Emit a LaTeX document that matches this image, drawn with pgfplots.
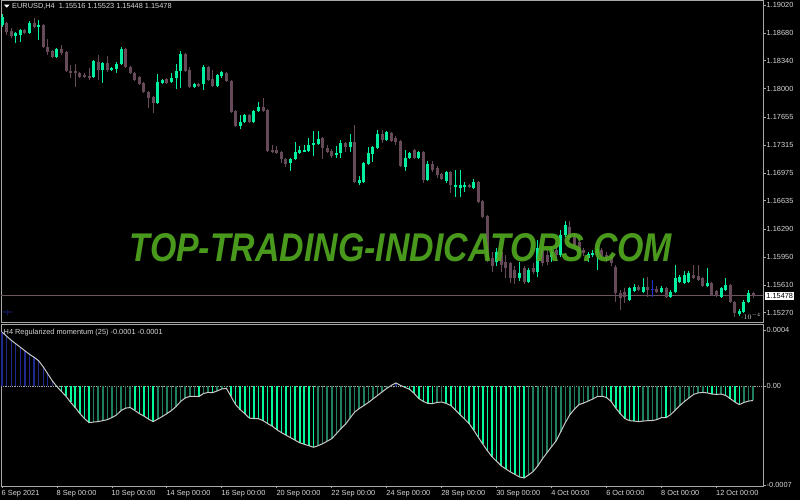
\documentclass[border=0pt]{standalone}
\usepackage{fontspec}
\setmainfont{Liberation Sans}
\usepackage{pgfplots}
\usepackage{pgfplotstable}
\pgfplotsset{compat=1.18}
\definecolor{bull}{HTML}{00EFA0}
\definecolor{bear}{HTML}{664A5A}
\definecolor{dojib}{HTML}{2030C8}
\definecolor{hbright}{HTML}{00FA9A}
\definecolor{hdark}{HTML}{1F7F5F}
\definecolor{hblue}{HTML}{1F2A90}
\definecolor{mline}{HTML}{C8C8C8}
\definecolor{frame}{HTML}{A8A8A8}
\definecolor{lab}{HTML}{D8D8D8}
\definecolor{pline}{HTML}{6A5560}
\definecolor{wm}{HTML}{52AA20}
\newcommand\lab{\fontsize{7.4}{8.5}\selectfont}

\pgfplotstableread{
i o h l c
0 1.18776 1.18910 1.18752 1.18874
1 1.18800 1.18813 1.18655 1.18692
2 1.18704 1.18740 1.18619 1.18643
3 1.18643 1.18692 1.18557 1.18679
4 1.18655 1.18727 1.18570 1.18716
5 1.18716 1.18727 1.18667 1.18679
6 1.18679 1.18825 1.18667 1.18800
7 1.18800 1.18862 1.18740 1.18752
8 1.18764 1.18837 1.18594 1.18776
9 1.18776 1.18788 1.18497 1.18509
10 1.18509 1.18606 1.18411 1.18448
11 1.18460 1.18472 1.18375 1.18387
12 1.18387 1.18497 1.18375 1.18485
13 1.18485 1.18533 1.18411 1.18435
14 1.18448 1.18460 1.18204 1.18216
15 1.18216 1.18289 1.18131 1.18204
16 1.18216 1.18301 1.18022 1.18191
17 1.18191 1.18204 1.18131 1.18143
18 1.18167 1.18191 1.18131 1.18143
19 1.18155 1.18253 1.18107 1.18131
20 1.18143 1.18350 1.18131 1.18338
21 1.18326 1.18411 1.18107 1.18228
22 1.18228 1.18326 1.18070 1.18313
23 1.18313 1.18399 1.18204 1.18228
24 1.18228 1.18265 1.18216 1.18253
25 1.18240 1.18326 1.18191 1.18301
26 1.18301 1.18509 1.18289 1.18485
27 1.18485 1.18497 1.18253 1.18265
28 1.18265 1.18277 1.18179 1.18191
29 1.18191 1.18204 1.18095 1.18107
30 1.18143 1.18155 1.18046 1.18058
31 1.18070 1.18083 1.17948 1.17961
32 1.17961 1.17973 1.17766 1.17888
33 1.17900 1.17912 1.17704 1.17826
34 1.17826 1.18179 1.17814 1.18083
35 1.18070 1.18118 1.18058 1.18107
36 1.18118 1.18131 1.18058 1.18070
37 1.18083 1.18191 1.18070 1.18131
38 1.18131 1.18301 1.17997 1.18216
39 1.18216 1.18460 1.18010 1.18423
40 1.18423 1.18435 1.18204 1.18216
41 1.18228 1.18265 1.18010 1.18022
42 1.18022 1.18070 1.18010 1.18058
43 1.18058 1.18070 1.18022 1.18034
44 1.18058 1.18289 1.17985 1.18265
45 1.18265 1.18277 1.18095 1.18107
46 1.18118 1.18228 1.18022 1.18034
47 1.18034 1.18179 1.18022 1.18167
48 1.18155 1.18216 1.18131 1.18204
49 1.18191 1.18204 1.18083 1.18095
50 1.18095 1.18107 1.17704 1.17717
51 1.17729 1.17741 1.17534 1.17546
52 1.17546 1.17680 1.17509 1.17595
53 1.17595 1.17692 1.17582 1.17680
54 1.17680 1.17692 1.17582 1.17595
55 1.17595 1.17741 1.17582 1.17729
56 1.17729 1.17839 1.17717 1.17778
57 1.17778 1.17888 1.17717 1.17729
58 1.17741 1.17753 1.17230 1.17242
59 1.17254 1.17315 1.17217 1.17242
60 1.17254 1.17303 1.17205 1.17217
61 1.17230 1.17242 1.17095 1.17144
62 1.17144 1.17157 1.17047 1.17083
63 1.17095 1.17157 1.16998 1.17144
64 1.17144 1.17352 1.17132 1.17230
65 1.17217 1.17303 1.17205 1.17254
66 1.17242 1.17315 1.17230 1.17254
67 1.17242 1.17401 1.17230 1.17315
68 1.17315 1.17486 1.17181 1.17339
69 1.17327 1.17486 1.17315 1.17388
70 1.17401 1.17413 1.17144 1.17279
71 1.17279 1.17315 1.17217 1.17230
72 1.17242 1.17266 1.17157 1.17181
73 1.17193 1.17303 1.17157 1.17217
74 1.17217 1.17376 1.17157 1.17339
75 1.17339 1.17352 1.17230 1.17291
76 1.17291 1.17449 1.17230 1.17352
77 1.17352 1.17558 1.16852 1.16865
78 1.16852 1.16937 1.16828 1.16889
79 1.16865 1.17108 1.16852 1.17095
80 1.17083 1.17291 1.17071 1.17217
81 1.17205 1.17303 1.17108 1.17291
82 1.17279 1.17498 1.17266 1.17449
83 1.17449 1.17498 1.17339 1.17376
84 1.17376 1.17486 1.17364 1.17474
85 1.17461 1.17474 1.17352 1.17364
86 1.17401 1.17425 1.17315 1.17352
87 1.17364 1.17376 1.17047 1.17059
88 1.17047 1.17254 1.16998 1.17157
89 1.17157 1.17230 1.17144 1.17217
90 1.17254 1.17266 1.17144 1.17157
91 1.17157 1.17242 1.17144 1.17230
92 1.17230 1.17242 1.16852 1.16889
93 1.16889 1.17120 1.16877 1.17083
94 1.17083 1.17120 1.16986 1.17010
95 1.17035 1.17059 1.16913 1.16949
96 1.16961 1.16973 1.16889 1.16900
97 1.16877 1.16998 1.16852 1.16986
98 1.16986 1.16998 1.16730 1.16828
99 1.16816 1.17010 1.16682 1.16828
100 1.16791 1.17010 1.16682 1.16828
101 1.16804 1.16865 1.16743 1.16828
102 1.16828 1.16840 1.16791 1.16804
103 1.16791 1.16900 1.16779 1.16865
104 1.16865 1.16877 1.16608 1.16621
105 1.16633 1.16645 1.16426 1.16438
106 1.16450 1.16462 1.15890 1.15914
107 1.15939 1.16012 1.15768 1.15841
108 1.15890 1.16061 1.15841 1.16012
109 1.16012 1.16036 1.15768 1.15853
110 1.15890 1.15975 1.15695 1.15817
111 1.15877 1.15890 1.15634 1.15695
112 1.15792 1.15841 1.15622 1.15695
113 1.15695 1.15890 1.15659 1.15755
114 1.15817 1.15841 1.15622 1.15647
115 1.15647 1.15817 1.15634 1.15792
116 1.15817 1.15877 1.15743 1.15768
117 1.15768 1.16158 1.15707 1.16061
118 1.16036 1.16097 1.15841 1.15877
119 1.15975 1.16036 1.15853 1.15890
120 1.15950 1.16073 1.15890 1.16012
121 1.16036 1.16097 1.15939 1.15975
122 1.15975 1.16280 1.15950 1.16219
123 1.16219 1.16389 1.16194 1.16340
124 1.16316 1.16389 1.16158 1.16182
125 1.16194 1.16243 1.16061 1.16097
126 1.16134 1.16158 1.15987 1.16012
127 1.16036 1.16061 1.15963 1.15999
128 1.15939 1.16012 1.15890 1.15987
129 1.15975 1.16036 1.15950 1.15999
130 1.15999 1.16097 1.15792 1.16048
131 1.16036 1.16061 1.15939 1.15963
132 1.15975 1.16012 1.15890 1.15939
133 1.15950 1.15975 1.15841 1.15877
134 1.15829 1.15853 1.15403 1.15512
135 1.15512 1.15549 1.15305 1.15452
136 1.15525 1.15574 1.15391 1.15464
137 1.15427 1.15586 1.15415 1.15574
138 1.15537 1.15622 1.15525 1.15586
139 1.15586 1.15610 1.15537 1.15549
140 1.15525 1.15695 1.15512 1.15586
141 1.15586 1.15707 1.15464 1.15549
142 1.15561 1.15671 1.15464 1.15561
143 1.15561 1.15598 1.15512 1.15525
144 1.15525 1.15598 1.15512 1.15574
145 1.15574 1.15586 1.15452 1.15464
146 1.15464 1.15549 1.15452 1.15525
147 1.15525 1.15853 1.15512 1.15695
148 1.15647 1.15731 1.15634 1.15707
149 1.15634 1.15780 1.15622 1.15731
150 1.15647 1.15780 1.15634 1.15755
151 1.15731 1.15853 1.15683 1.15695
152 1.15719 1.15853 1.15659 1.15671
153 1.15695 1.15707 1.15586 1.15598
154 1.15598 1.15817 1.15586 1.15634
155 1.15634 1.15647 1.15476 1.15488
156 1.15537 1.15549 1.15464 1.15476
157 1.15464 1.15586 1.15452 1.15574
158 1.15549 1.15695 1.15537 1.15610
159 1.15610 1.15622 1.15391 1.15403
160 1.15403 1.15415 1.15220 1.15268
161 1.15256 1.15317 1.15232 1.15293
162 1.15281 1.15427 1.15268 1.15403
163 1.15403 1.15549 1.15391 1.15512
164 1.15516 1.15523 1.15448 1.15478
}\candles

\pgfplotstableread{
i v k
0 0.000386 0
1 0.000357 0
2 0.000328 0
3 0.000303 0
4 0.000278 0
5 0.000253 0
6 0.000228 0
7 0.000207 0
8 0.000182 0
9 0.000139 0
10 0.000089 0
11 0.000039 0
12 -0.000002 1
13 -0.000036 1
14 -0.000071 1
15 -0.000114 1
16 -0.000150 1
17 -0.000193 1
18 -0.000228 1
19 -0.000257 1
20 -0.000253 2
21 -0.000250 2
22 -0.000243 2
23 -0.000236 2
24 -0.000221 2
25 -0.000203 2
26 -0.000171 2
27 -0.000154 2
28 -0.000150 2
29 -0.000171 1
30 -0.000193 1
31 -0.000211 1
32 -0.000232 1
33 -0.000250 1
34 -0.000232 2
35 -0.000214 2
36 -0.000193 2
37 -0.000171 2
38 -0.000143 2
39 -0.000107 2
40 -0.000082 2
41 -0.000071 2
42 -0.000070 2
43 -0.000072 1
44 -0.000050 2
45 -0.000043 2
46 -0.000044 1
47 -0.000032 2
48 -0.000018 2
49 -0.000014 2
50 -0.000071 1
51 -0.000129 1
52 -0.000164 1
53 -0.000193 1
54 -0.000225 1
55 -0.000228 1
56 -0.000229 1
57 -0.000243 1
58 -0.000264 1
59 -0.000282 1
60 -0.000307 1
61 -0.000328 1
62 -0.000346 1
63 -0.000364 1
64 -0.000382 1
65 -0.000400 1
66 -0.000411 1
67 -0.000421 1
68 -0.000432 1
69 -0.000421 2
70 -0.000407 2
71 -0.000389 2
72 -0.000371 2
73 -0.000336 2
74 -0.000300 2
75 -0.000268 2
76 -0.000225 2
77 -0.000182 2
78 -0.000157 2
79 -0.000136 2
80 -0.000114 2
81 -0.000089 2
82 -0.000064 2
83 -0.000039 2
84 -0.000014 2
85 0.000007 0
86 0.000025 0
87 0.000007 0
88 -0.000007 1
89 -0.000021 1
90 -0.000050 1
91 -0.000086 1
92 -0.000107 1
93 -0.000121 1
94 -0.000122 1
95 -0.000114 2
96 -0.000111 2
97 -0.000121 1
98 -0.000136 1
99 -0.000168 1
100 -0.000200 1
101 -0.000232 1
102 -0.000264 1
103 -0.000311 1
104 -0.000361 1
105 -0.000411 1
106 -0.000457 1
107 -0.000500 1
108 -0.000532 1
109 -0.000564 1
110 -0.000586 1
111 -0.000607 1
112 -0.000625 1
113 -0.000643 1
114 -0.000650 1
115 -0.000628 2
116 -0.000603 2
117 -0.000564 2
118 -0.000514 2
119 -0.000471 2
120 -0.000428 2
121 -0.000386 2
122 -0.000321 2
123 -0.000257 2
124 -0.000200 2
125 -0.000161 2
126 -0.000129 2
127 -0.000118 2
128 -0.000104 2
129 -0.000089 2
130 -0.000071 2
131 -0.000070 2
132 -0.000079 1
133 -0.000107 1
134 -0.000154 1
135 -0.000193 1
136 -0.000228 1
137 -0.000243 1
138 -0.000246 1
139 -0.000250 1
140 -0.000246 2
141 -0.000243 2
142 -0.000242 2
143 -0.000236 2
144 -0.000221 2
145 -0.000222 1
146 -0.000200 2
147 -0.000168 2
148 -0.000136 2
149 -0.000107 2
150 -0.000082 2
151 -0.000057 2
152 -0.000046 2
153 -0.000043 2
154 -0.000046 1
155 -0.000054 1
156 -0.000057 1
157 -0.000054 2
158 -0.000064 1
159 -0.000086 1
160 -0.000111 1
161 -0.000129 1
162 -0.000114 2
163 -0.000104 2
164 -0.000100 2
}\mom

\pgfplotsset{
  candle/.style n args={2}{draw=none, fill=none, mark=none, mark size=0pt, forget plot,
    error bars/.cd, y dir=both, y explicit, error mark=none,
    error bar style={draw=#1, line width=#2, line cap=butt}},
}

\begin{document}
\begin{tikzpicture}
\fill[black] (0,0) rectangle (800bp,500bp);
% ---------- price panel ----------
\begin{axis}[
  at={(1bp,177bp)}, anchor=south west, scale only axis,
  width=762bp, height=322bp,
  xmin=-0.22, xmax=166.16, ymin=1.15147, ymax=1.19069,
  axis line style={draw=frame, line width=1bp},
  xtick=\empty,
  ytick={1.15270,1.15610,1.15950,1.16290,1.16635,1.16975,1.17315,1.17655,1.18000,1.18340,1.18680,1.19020},
  yticklabels={1.15270,1.15610,1.15950,1.16290,1.16635,1.16975,1.17315,1.17655,1.18000,1.18340,1.18680,1.19020},
  ytick pos=right, yticklabel pos=right, tick align=outside,
  major tick length=2.5bp, tick style={draw=frame, line width=0.8bp},
  yticklabel style={font=\lab, text=lab, anchor=west, inner sep=0pt, xshift=1bp},
  clip=true,
]
\addplot[pline, line width=0.8bp, forget plot] coordinates {(-1,1.15478) (170,1.15478)};
% wicks
\addplot[candle={bull}{1bp}]
  table[x=i, y expr=(\thisrow{h}+\thisrow{l})/2,
        y error expr={(\thisrow{c}>\thisrow{o})*(\thisrow{h}-\thisrow{l})/2}] {\candles};
\addplot[candle={bear}{1bp}]
  table[x=i, y expr=(\thisrow{h}+\thisrow{l})/2,
        y error expr={(\thisrow{c}<\thisrow{o})*(\thisrow{h}-\thisrow{l})/2}] {\candles};
\addplot[candle={dojib}{1bp}]
  table[x=i, y expr=(\thisrow{h}+\thisrow{l})/2,
        y error expr={(\thisrow{c}==\thisrow{o})*(\thisrow{h}-\thisrow{l})/2}] {\candles};
% bodies
\addplot[candle={bull}{3bp}]
  table[x=i, y expr=(\thisrow{o}+\thisrow{c})/2,
        y error expr={(\thisrow{c}>\thisrow{o})*max(abs(\thisrow{c}-\thisrow{o})/2,0.00005)}] {\candles};
\addplot[candle={bear}{3bp}]
  table[x=i, y expr=(\thisrow{o}+\thisrow{c})/2,
        y error expr={(\thisrow{c}<\thisrow{o})*max(abs(\thisrow{c}-\thisrow{o})/2,0.00005)}] {\candles};
\addplot[candle={dojib}{3bp}]
  table[x=i, y expr=(\thisrow{o}+\thisrow{c})/2,
        y error expr={(\thisrow{c}==\thisrow{o})*0.00005}] {\candles};
\end{axis}
% watermark
\node[text=wm, opacity=0.9, inner sep=0pt] at (401bp,252bp) {\resizebox{542bp}{28bp}{\bfseries\itshape TOP-TRADING-INDICATORS.COM}};
% current price box
\node[fill=white, text=black, font=\lab, inner sep=1.2bp, anchor=west] at (765bp,204bp) {1.15478};
% ---------- momentum panel ----------
\begin{axis}[
  at={(1bp,14bp)}, anchor=south west, scale only axis,
  width=762bp, height=161bp,
  xmin=-0.22, xmax=166.16, ymin=-0.000707, ymax=0.000436,
  axis line style={draw=frame, line width=1bp},
  xtick={0,12,24,36,48,60,72,84,96,108,120,132,144,156},
  xticklabels={6 Sep 2021,8 Sep 00:00,10 Sep 00:00,14 Sep 00:00,16 Sep 00:00,20 Sep 00:00,22 Sep 00:00,24 Sep 00:00,28 Sep 00:00,30 Sep 00:00,4 Oct 00:00,6 Oct 00:00,8 Oct 00:00,12 Oct 00:00},
  ytick={-0.0007,0,0.0004},
  yticklabels={-0.0007,0.00,0.0004},
  ytick pos=right, yticklabel pos=right, xtick pos=bottom, tick align=outside,
  major tick length=2.5bp, tick style={draw=frame, line width=0.8bp},
  yticklabel style={font=\lab, text=lab, anchor=west, inner sep=0pt, xshift=1bp},
  xticklabel style={font=\lab, text=lab, anchor=north west, inner sep=0pt, xshift=-0.5bp, yshift=-1.5bp},
  clip=true,
]
\addplot[densely dotted, frame, line width=0.8bp, forget plot] coordinates {(-1,0) (170,0)};
\addplot[ycomb, draw=hblue, line width=1.3bp, forget plot,
  restrict expr to domain={\thisrow{k}}{-0.5:0.5}] table[x=i, y=v] {\mom};
\addplot[ycomb, draw=hbright, line width=1.6bp, forget plot,
  restrict expr to domain={\thisrow{k}}{0.5:1.5}] table[x=i, y=v] {\mom};
\addplot[ycomb, draw=hdark, line width=1.6bp, forget plot,
  restrict expr to domain={\thisrow{k}}{1.5:2.5}] table[x=i, y=v] {\mom};
\addplot[draw=mline, line width=1bp, forget plot] table[x=i, y=v] {\mom};
\end{axis}
% ---------- texts ----------
\fill[white] (4bp,495.3bp) -- (9.5bp,495.3bp) -- (6.75bp,492.3bp) -- cycle;
\node[anchor=west, inner sep=0pt, font=\lab, text=lab] at (12bp,493.3bp) {EURUSD,H4\ \ 1.15516 1.15523 1.15448 1.15478};
\node[anchor=west, inner sep=0pt, font=\lab, text=lab] at (3.5bp,167.7bp) {H4 Regularized momentum (25) -0.0001 -0.0001};
\node[anchor=west, inner sep=0pt, font=\fontsize{6}{7}\selectfont, text=dojib] at (3bp,187bp) {=|=};
\pgfresetboundingbox
\useasboundingbox (0,0) rectangle (800bp,500bp);
\end{tikzpicture}
\end{document}
